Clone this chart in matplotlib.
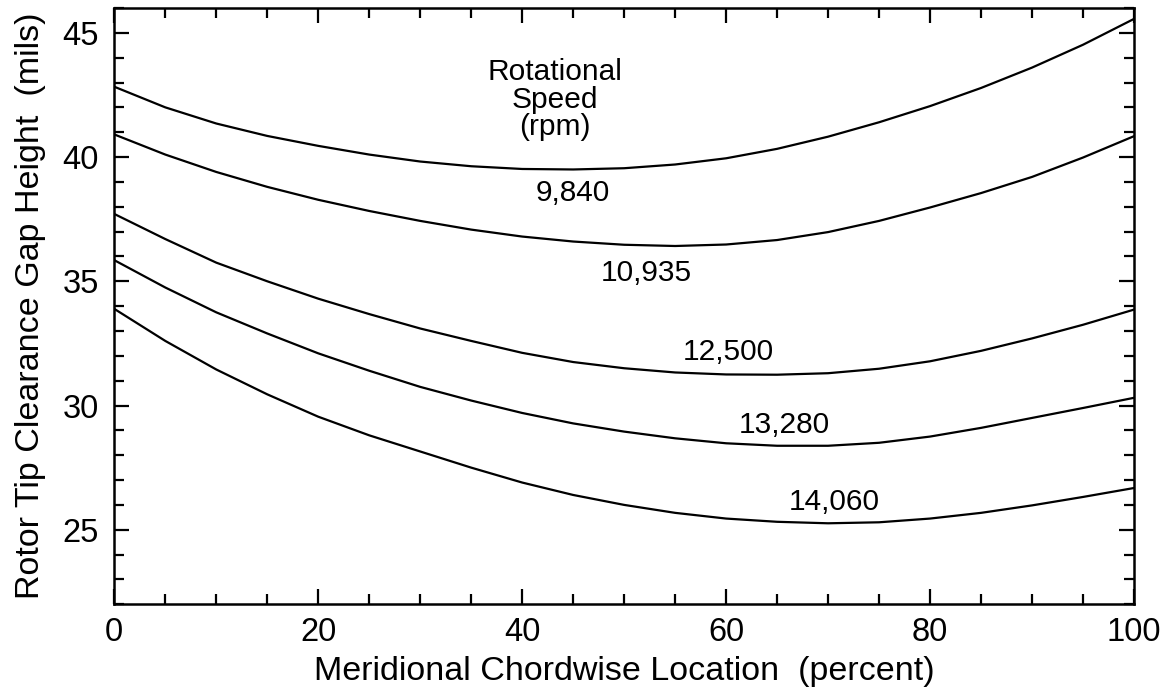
import matplotlib
matplotlib.use("Agg")
import matplotlib.pyplot as plt
from matplotlib.ticker import MultipleLocator

plt.rcParams["font.family"] = ["Liberation Sans", "DejaVu Sans"]

# chordwise stations (percent of meridional chord)
location = [0, 5, 10, 15, 20, 25, 30, 35, 40, 45, 50,
            55, 60, 65, 70, 75, 80, 85, 90, 95, 100]

# tip clearance gap (mils) per rotational speed
gap_9840 = [42.83, 42.0, 41.35, 40.85, 40.45, 40.1, 39.82, 39.63, 39.52, 39.5, 39.55,
            39.7, 39.95, 40.33, 40.82, 41.4, 42.05, 42.78, 43.6, 44.52, 45.56]
gap_10935 = [40.91, 40.1, 39.4, 38.8, 38.28, 37.83, 37.43, 37.08, 36.8, 36.6, 36.47,
             36.42, 36.48, 36.66, 36.98, 37.43, 37.97, 38.55, 39.2, 39.98, 40.84]
gap_12500 = [37.71, 36.7, 35.75, 35.0, 34.3, 33.68, 33.1, 32.6, 32.12, 31.75, 31.5,
             31.33, 31.25, 31.24, 31.3, 31.48, 31.78, 32.2, 32.7, 33.25, 33.86]
gap_13280 = [35.85, 34.75, 33.75, 32.9, 32.1, 31.4, 30.75, 30.2, 29.7, 29.28, 28.95,
             28.68, 28.48, 28.38, 28.38, 28.5, 28.75, 29.1, 29.5, 29.9, 30.31]
gap_14060 = [33.89, 32.6, 31.45, 30.45, 29.55, 28.8, 28.15, 27.5, 26.9, 26.4, 26.0,
             25.68, 25.45, 25.32, 25.26, 25.3, 25.45, 25.68, 25.98, 26.32, 26.68]

speed_labels = ["9,840", "10,935", "12,500", "13,280", "14,060"]
label_x = [45.0, 52.2, 60.2, 65.7, 70.6]
label_y = [38.57, 35.35, 32.17, 29.2, 26.13]

fig = plt.figure(figsize=(11.71, 6.99), dpi=100)
ax = fig.add_axes([0.0976, 0.1355, 0.8708, 0.8531])

for gap in (gap_9840, gap_10935, gap_12500, gap_13280, gap_14060):
    ax.plot(location, gap, color="black", lw=1.6)

for txt, lx, ly in zip(speed_labels, label_x, label_y):
    ax.text(lx, ly, txt, fontsize=21.5, ha="center", va="center")

ax.text(43.2, 42.31, "Rotational\nSpeed\n(rpm)", fontsize=21.5,
        ha="center", va="center", linespacing=0.98)

ax.set_xlim(0, 100)
ax.set_ylim(22, 46)
ax.xaxis.set_major_locator(MultipleLocator(20))
ax.xaxis.set_minor_locator(MultipleLocator(5))
ax.yaxis.set_major_locator(MultipleLocator(5))
ax.yaxis.set_minor_locator(MultipleLocator(1))

ax.tick_params(which="both", direction="in", top=True, right=True, width=1.6,
               labelsize=23.5)
ax.tick_params(which="major", length=11)
ax.tick_params(which="minor", length=7)
ax.tick_params(axis="x", pad=9)
ax.tick_params(axis="y", pad=11)
for sp in ax.spines.values():
    sp.set_linewidth(1.8)

ax.set_xlabel("Meridional Chordwise Location  (percent)", fontsize=24.5, labelpad=6)
ax.set_ylabel("Rotor Tip Clearance Gap Height  (mils)", fontsize=24.5, labelpad=12)

fig.savefig("out.png", dpi=100)
